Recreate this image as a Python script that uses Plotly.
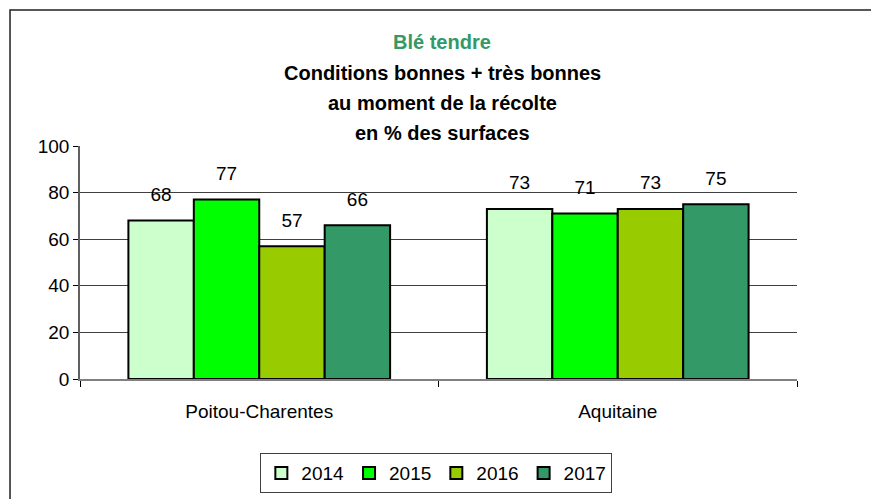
import plotly.graph_objects as go

regions = ["Poitou-Charentes", "Aquitaine"]
years = ["2014", "2015", "2016", "2017"]
values = {
    "2014": [68, 73],
    "2015": [77, 71],
    "2016": [57, 73],
    "2017": [66, 75],
}
colors = {
    "2014": "#CCFFCC",
    "2015": "#00FF00",
    "2016": "#99CC00",
    "2017": "#339966",
}
y_ticks = [0, 20, 40, 60, 80, 100]
grid_ticks = [20, 40, 60, 80]

FONT = "Liberation Sans, Arial, sans-serif"

fig = go.Figure()
for yr in years:
    fig.add_trace(go.Bar(
        x=regions,
        y=values[yr],
        name=yr,
        marker=dict(color=colors[yr], line=dict(color="black", width=2)),
        hoverinfo="x+y+name",
    ))

# value labels: invisible markers push the text up like Excel does
for yr in years:
    fig.add_trace(go.Scatter(
        x=regions,
        y=values[yr],
        mode="markers+text",
        marker=dict(size=22, opacity=0),
        text=[str(v) for v in values[yr]],
        textposition="top center",
        textfont=dict(size=19, color="black"),
        cliponaxis=False,
        showlegend=False,
        hoverinfo="skip",
    ))

# empty trace so the overlay grid axis gets drawn
fig.add_trace(go.Scatter(x=[], y=[], yaxis="y2", showlegend=False, hoverinfo="skip"))

fig.update_layout(
    width=879, height=499,
    barmode="group",
    bargap=0.27,
    bargroupgap=0,
    scattermode="group",
    scattergap=0.27,
    paper_bgcolor="white",
    plot_bgcolor="white",
    font=dict(family=FONT, size=19, color="black"),
    # page body adds 8px, margins compensate for it
    margin=dict(l=72, r=90, t=138, b=128, autoexpand=False),
    showlegend=True,
    legend=dict(
        orientation="h",
        x=0.497, xanchor="center",
        y=-0.318, yanchor="top",
        bordercolor="#404040", borderwidth=1,
        font=dict(size=19),
        itemwidth=30,
        traceorder="normal",
    ),
    xaxis=dict(
        showline=True, linecolor="#808080", linewidth=1.5,
        ticks="outside", tickson="boundaries", ticklen=6, tickcolor="black",
        ticklabelstandoff=14,
        showgrid=False,
    ),
    yaxis=dict(
        range=[0, 100],
        tickvals=y_ticks,
        showline=True, linecolor="#606060", linewidth=1.5,
        ticks="outside", ticklen=5, tickcolor="black",
        showgrid=False, zeroline=False,
    ),
    yaxis2=dict(
        overlaying="y",
        range=[0, 100],
        tickvals=grid_ticks,
        showticklabels=False,
        showgrid=True, gridcolor="#404040", gridwidth=1,
        zeroline=False, showline=False,
    ),
)

titles = [
    ("Blé tendre", "#339966", 1.446),
    ("Conditions bonnes + très bonnes", "black", 1.313),
    ("au moment de la récolte", "black", 1.185),
    ("en % des surfaces", "black", 1.056),
]
for txt, col, yy in titles:
    fig.add_annotation(
        text=f"<b>{txt}</b>", xref="paper", yref="paper",
        x=0.505, y=yy, xanchor="center", yanchor="middle",
        showarrow=False, font=dict(size=20, color=col),
    )

# outer chart frame
fig.add_shape(
    type="rect", xref="paper", yref="paper",
    x0=-0.0976, y0=-1.0, x1=1.3, y1=1.584,
    line=dict(color="#202020", width=1.5),
)

fig.write_html("out.html")
